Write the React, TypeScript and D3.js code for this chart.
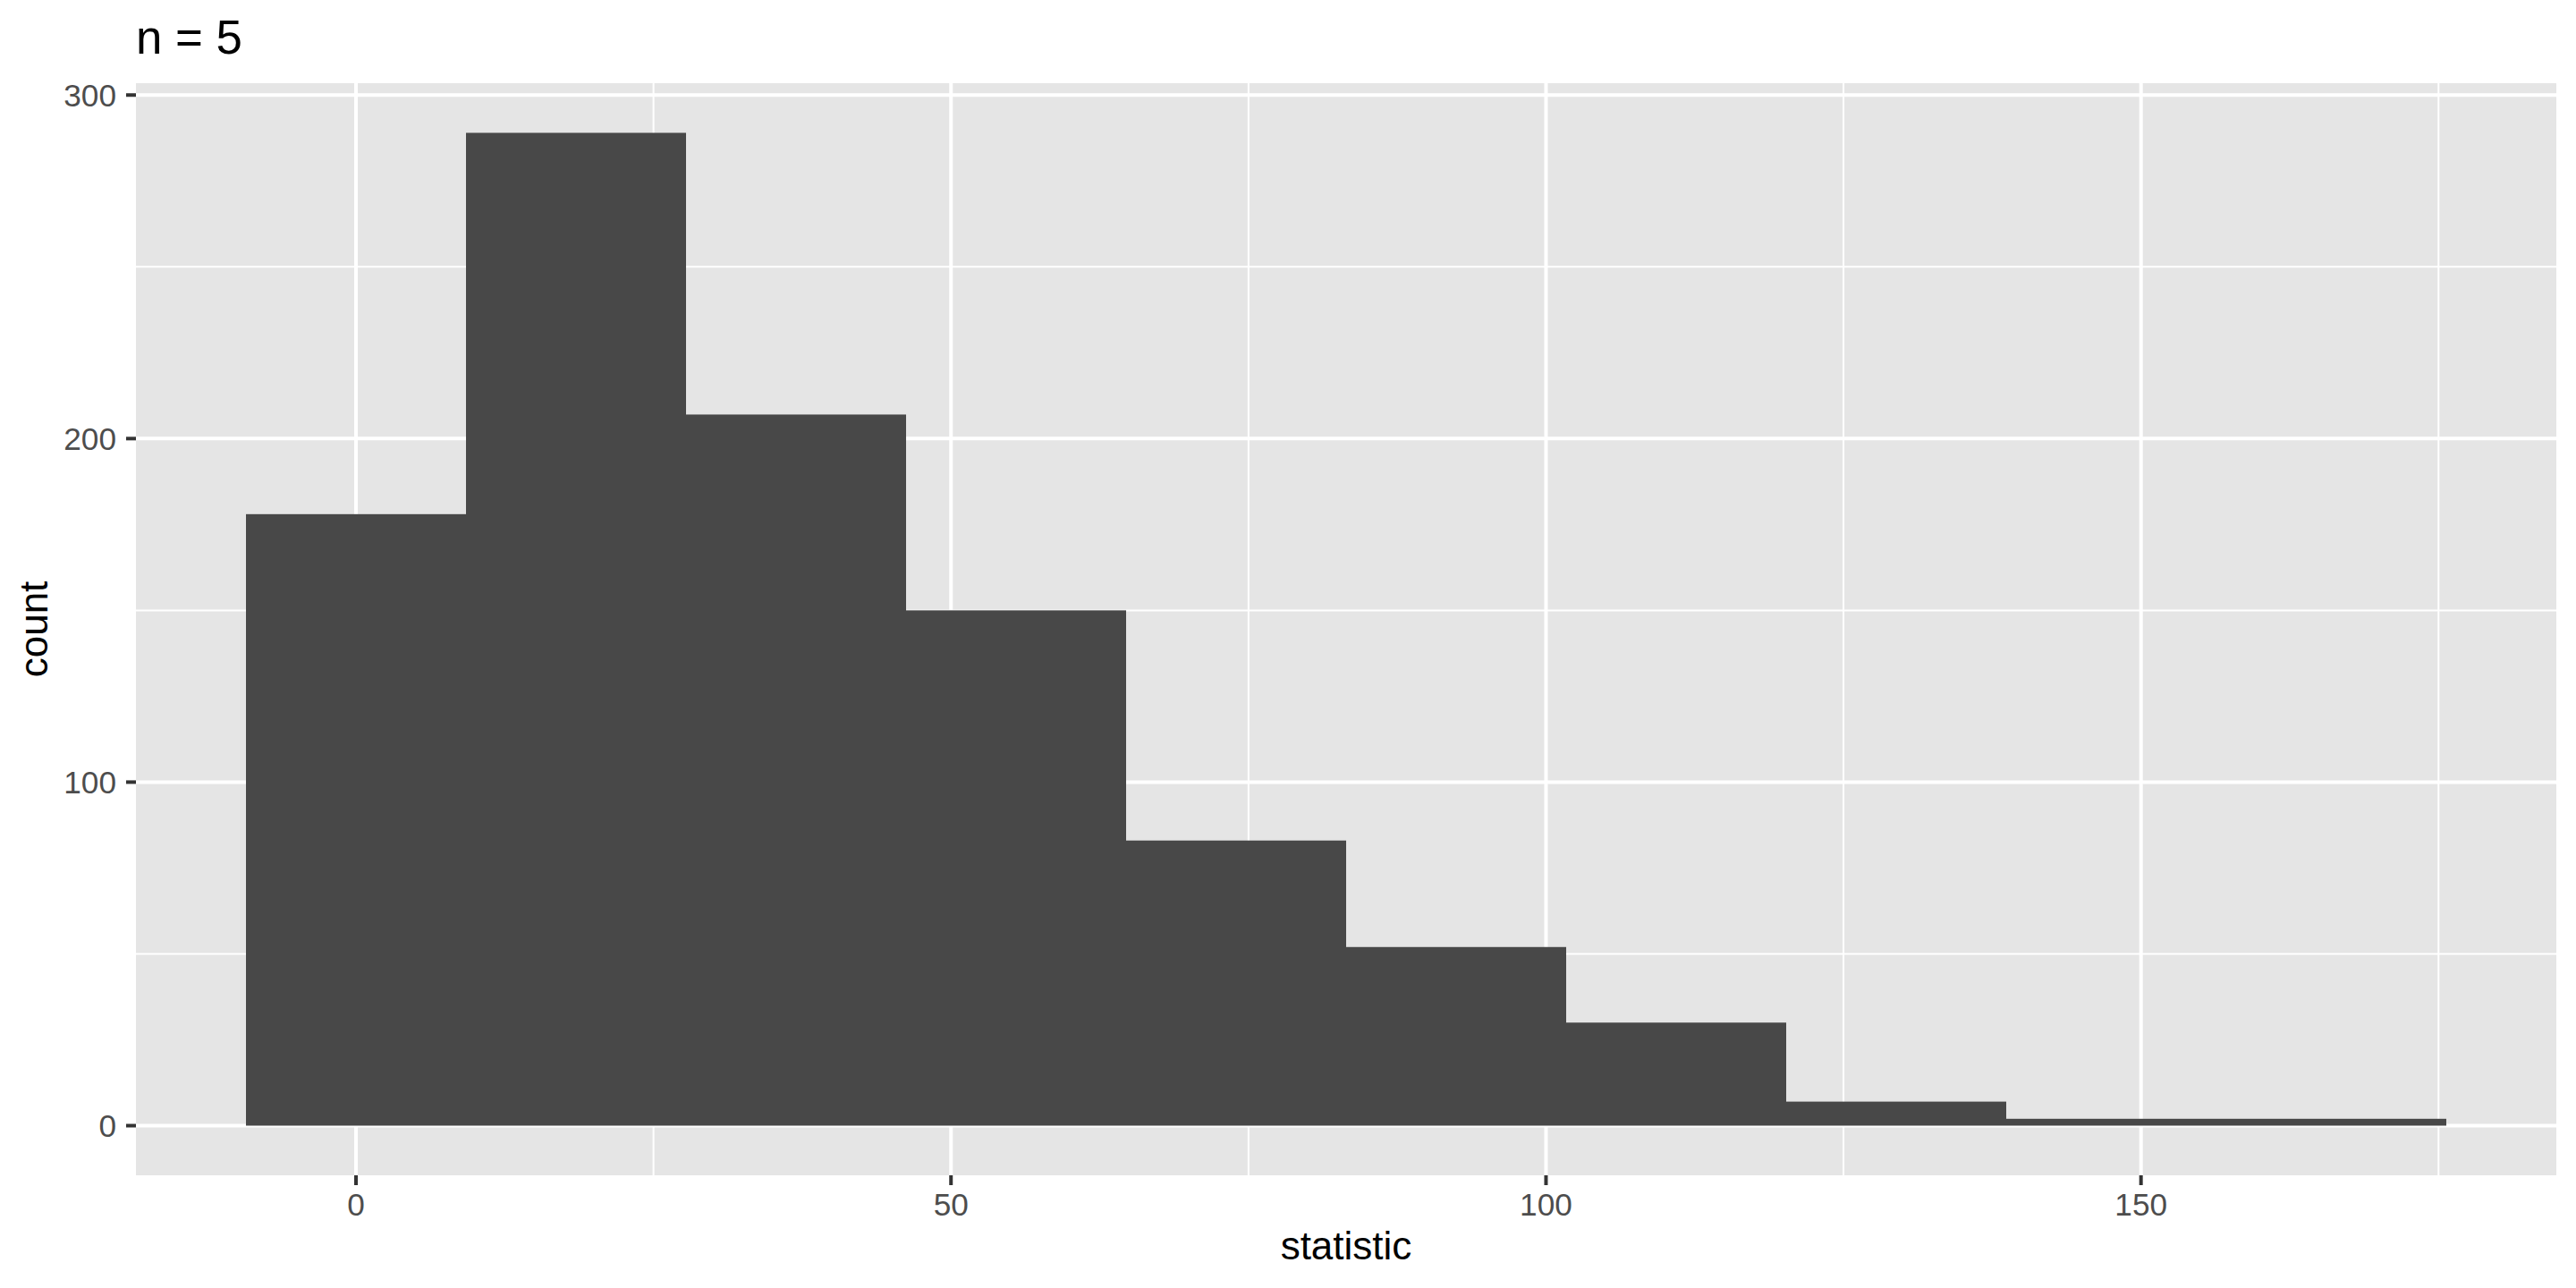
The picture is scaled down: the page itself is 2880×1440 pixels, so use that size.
import React from 'react'
import * as d3 from 'd3'

// histogram counts, one per bin (bins centred on 0, w, 2w, ...)
const counts = [178, 289, 207, 150, 83, 52, 30, 7, 2, 2]
const binWidth = 18.49
const xTicks = [0, 50, 100, 150]
const xMinor = [25, 75, 125, 175]
const yTicks = [0, 100, 200, 300]
const yMinor = [50, 150, 250]
const title = 'n = 5'
const xLabel = 'statistic'
const yLabel = 'count'

const W = 2880
const H = 1440
const panel = { left: 152, top: 93, right: 2858, bottom: 1314 }
const font = '"Liberation Sans", Arial, Helvetica, sans-serif'

export default function App() {
  const bins = counts.map((c, i) => ({
    x0: i * binWidth - binWidth / 2,
    x1: i * binWidth + binWidth / 2,
    count: c,
  }))

  const dataMin = bins[0].x0
  const dataMax = bins[bins.length - 1].x1
  const padX = (dataMax - dataMin) * 0.05
  const x = d3
    .scaleLinear()
    .domain([dataMin - padX, dataMax + padX])
    .range([panel.left, panel.right])

  const maxCount = d3.max(counts) as number
  const padY = maxCount * 0.05
  const y = d3
    .scaleLinear()
    .domain([-padY, maxCount + padY])
    .range([panel.bottom, panel.top])

  const tickLen = 11
  const tickFont = 35.2

  return (
    <svg
      width={W}
      height={H}
      style={{ position: 'absolute', left: 0, top: 0, background: '#fff' }}
      fontFamily={font}
    >
      <rect
        x={panel.left}
        y={panel.top}
        width={panel.right - panel.left}
        height={panel.bottom - panel.top}
        fill="#E5E5E5"
      />
      {/* minor grid */}
      {yMinor.map(v => (
        <line key={'ym' + v} x1={panel.left} x2={panel.right} y1={y(v)} y2={y(v)} stroke="#fff" strokeWidth={2} />
      ))}
      {xMinor.map(v => (
        <line key={'xm' + v} y1={panel.top} y2={panel.bottom} x1={x(v)} x2={x(v)} stroke="#fff" strokeWidth={2} />
      ))}
      {/* major grid */}
      {yTicks.map(v => (
        <line key={'yM' + v} x1={panel.left} x2={panel.right} y1={y(v)} y2={y(v)} stroke="#fff" strokeWidth={4} />
      ))}
      {xTicks.map(v => (
        <line key={'xM' + v} y1={panel.top} y2={panel.bottom} x1={x(v)} x2={x(v)} stroke="#fff" strokeWidth={4} />
      ))}
      {/* bars */}
      {bins.map((b, i) => (
        <rect
          key={i}
          x={x(b.x0)}
          y={y(b.count)}
          width={x(b.x1) - x(b.x0)}
          height={y(0) - y(b.count)}
          fill="#484848"
        />
      ))}
      {/* y axis */}
      {yTicks.map(v => (
        <g key={'yt' + v}>
          <line x1={panel.left - tickLen} x2={panel.left} y1={y(v)} y2={y(v)} stroke="#333" strokeWidth={4} />
          <text
            x={panel.left - tickLen - 11}
            y={y(v)}
            dy="0.36em"
            textAnchor="end"
            fontSize={tickFont}
            fill="#4D4D4D"
          >
            {v}
          </text>
        </g>
      ))}
      {/* x axis */}
      {xTicks.map(v => (
        <g key={'xt' + v}>
          <line x1={x(v)} x2={x(v)} y1={panel.bottom} y2={panel.bottom + tickLen} stroke="#333" strokeWidth={4} />
          <text
            x={x(v)}
            y={panel.bottom + tickLen + 34}
            textAnchor="middle"
            fontSize={tickFont}
            fill="#4D4D4D"
          >
            {v}
          </text>
        </g>
      ))}
      <text
        x={(panel.left + panel.right) / 2}
        y={1408}
        textAnchor="middle"
        fontSize={44}
        fill="#000"
      >
        {xLabel}
      </text>
      <text
        transform={`translate(53, ${(panel.top + panel.bottom) / 2}) rotate(-90)`}
        textAnchor="middle"
        fontSize={44}
        fill="#000"
      >
        {yLabel}
      </text>
      <text x={panel.left} y={60} fontSize={52.8} fill="#000">
        {title}
      </text>
    </svg>
  )
}
